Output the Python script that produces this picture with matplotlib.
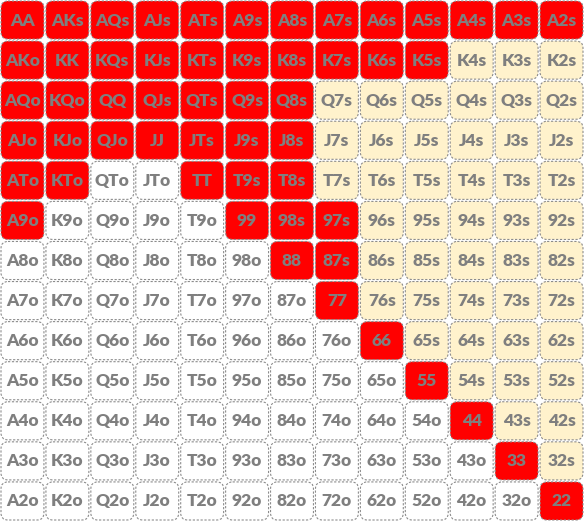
import matplotlib
matplotlib.use("Agg")
import matplotlib.pyplot as plt
from matplotlib.patches import FancyBboxPatch

ranks = ["A", "K", "Q", "J", "T", "9", "8", "7", "6", "5", "4", "3", "2"]

# Hands in the opening range
range_hands = [
    "AA", "AKs", "AQs", "AJs", "ATs", "A9s", "A8s", "A7s", "A6s", "A5s", "A4s", "A3s", "A2s",
    "AKo", "KK", "KQs", "KJs", "KTs", "K9s", "K8s", "K7s", "K6s", "K5s",
    "AQo", "KQo", "QQ", "QJs", "QTs", "Q9s", "Q8s",
    "AJo", "KJo", "QJo", "JJ", "JTs", "J9s", "J8s",
    "ATo", "KTo", "TT", "T9s", "T8s",
    "A9o", "99", "98s", "97s",
    "88", "87s",
    "77", "66", "55", "44", "33", "22",
]

in_color = "#FF0000"
suited_color = "#FFF2CC"
offsuit_color = "#FFFFFF"
text_color = "#7F7F7F"

W, H = 584, 521
fig = plt.figure(figsize=(W / 100, H / 100), dpi=100)
ax = fig.add_axes([0, 0, 1, 1])
ax.set_xlim(0, W)
ax.set_ylim(H, 0)
ax.axis("off")

n = len(ranks)
cw, ch = W / n, H / n
pad = 1.0
rad = 7

for i, r1 in enumerate(ranks):
    for j, r2 in enumerate(ranks):
        if i == j:
            hand = r1 + r2
        elif j > i:
            hand = r1 + r2 + "s"
        else:
            hand = r2 + r1 + "o"
        if hand in range_hands:
            fc = in_color
        elif j > i:
            fc = suited_color
        else:
            fc = offsuit_color
        x0 = j * cw + pad
        y0 = i * ch + pad
        box = FancyBboxPatch(
            (x0 + rad, y0 + rad), cw - 2 * pad - 2 * rad, ch - 2 * pad - 2 * rad,
            boxstyle=f"round,pad={rad}",
            facecolor=fc, edgecolor="#8C8C8C", linewidth=0.8, linestyle=(0, (2, 1.5)),
        )
        ax.add_patch(box)
        ax.text(j * cw + cw / 2, i * ch + ch / 2 + 0.5, hand,
                ha="center", va="center", fontsize=12.5, fontweight="heavy",
                color=text_color, family="Lato")

fig.savefig("out.png", dpi=100)
